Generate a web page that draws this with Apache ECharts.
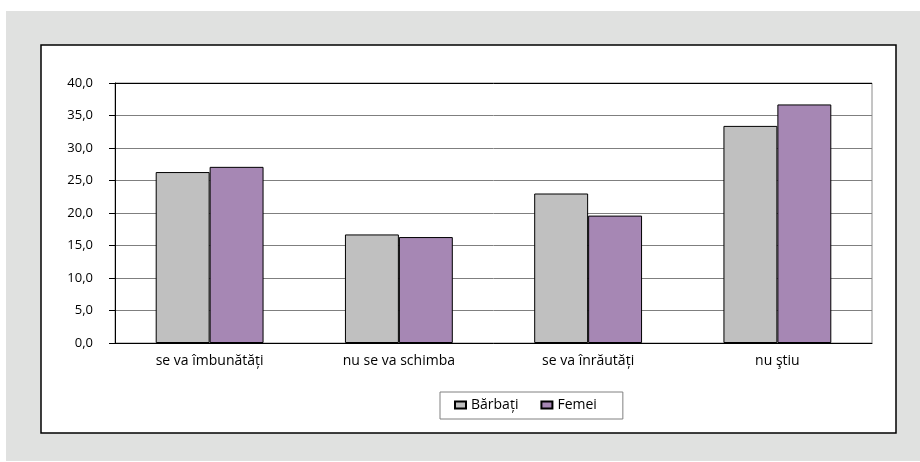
<!DOCTYPE html>
<html>
<head>
<meta charset="utf-8">
<script src="https://cdn.jsdelivr.net/npm/echarts@6/dist/echarts.min.js"></script>
<style>
  html, body { margin: 0; padding: 0; background: #ffffff; }
  #chart { width: 920px; height: 462px; }
</style>
</head>
<body>
<div id="chart"></div>
<script>
// Answers by category, percent of respondents
const categories = ['se va îmbunătăți', 'nu se va schimba', 'se va înrăutăți', 'nu ştiu'];
const barbati = [26.3, 16.7, 23.0, 33.4];
const femei = [27.1, 16.3, 19.6, 36.7];
const seriesNames = ['Bărbați', 'Femei'];

const FONT = '"Open Sans", "Noto Sans", sans-serif';
const chart = echarts.init(document.getElementById('chart'), null, { renderer: 'canvas' });

const gridLineColors = ['#7f7f7f', '#7f7f7f', '#7f7f7f', '#7f7f7f', '#7f7f7f', '#7f7f7f', '#7f7f7f', '#7f7f7f', '#000000'];

chart.setOption({
  animation: false,
  graphic: [
    { type: 'rect', z: -10, silent: true, shape: { x: 6, y: 11, width: 914, height: 450 }, style: { fill: '#e0e1e0' } },
    { type: 'rect', z: -9, silent: true, shape: { x: 41, y: 45, width: 855, height: 388 }, style: { fill: '#ffffff', stroke: '#000000', lineWidth: 1.5 } }
  ],
  grid: {
    left: 115, right: 48, top: 83, bottom: 119,
    show: true, borderColor: '#8a8a8a', borderWidth: 1, backgroundColor: 'transparent'
  },
  legend: {
    left: 440, top: 392,
    padding: [6, 26, 7, 14],
    itemWidth: 11, itemHeight: 7, itemGap: 22,
    borderColor: '#808080', borderWidth: 1,
    backgroundColor: '#ffffff',
    textStyle: { fontFamily: FONT, fontSize: 14, color: '#000000' },
    data: seriesNames.map(n => ({ name: n, icon: 'rect' }))
  },
  xAxis: {
    type: 'category',
    data: categories,
    axisLine: { lineStyle: { color: '#000000', width: 1 } },
    axisTick: { show: false },
    axisLabel: { fontFamily: FONT, fontSize: 14, color: '#000000', margin: 11 },
    splitLine: { show: false }
  },
  yAxis: {
    type: 'value',
    min: 0, max: 40, interval: 5,
    axisLine: { show: true, lineStyle: { color: '#000000', width: 1 } },
    axisTick: { show: true, inside: false, length: 6, lineStyle: { color: '#000000' } },
    axisLabel: {
      fontFamily: FONT, fontSize: 13, color: '#000000', margin: 22,
      formatter: v => v.toFixed(1).replace('.', ',')
    },
    splitLine: { show: true, lineStyle: { color: gridLineColors, width: 1 } }
  },
  series: [
    {
      name: seriesNames[0], type: 'bar', data: barbati,
      barGap: '0%', barCategoryGap: '43%',
      itemStyle: { color: '#c0c0c0', borderColor: '#000000', borderWidth: 1 }
    },
    {
      name: seriesNames[1], type: 'bar', data: femei,
      barGap: '0%', barCategoryGap: '43%',
      itemStyle: { color: '#a687b4', borderColor: '#000000', borderWidth: 1 }
    }
  ]
});
</script>
</body>
</html>
